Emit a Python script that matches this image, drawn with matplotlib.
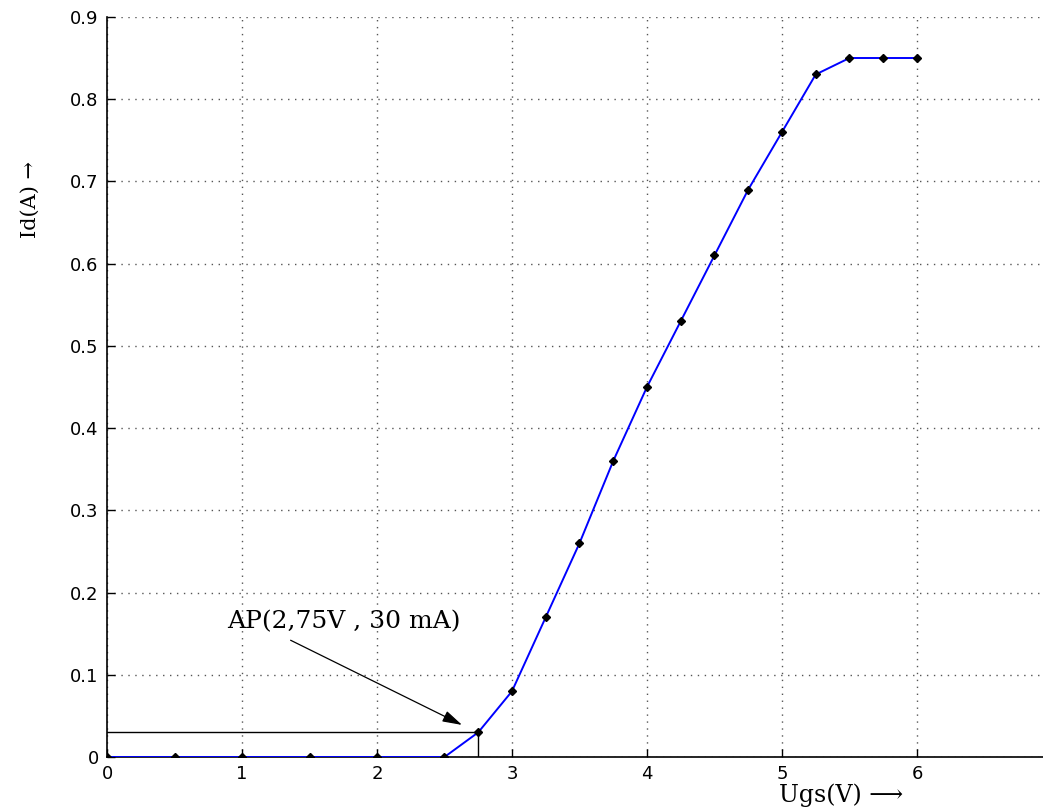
import matplotlib
matplotlib.use("Agg")
import matplotlib.pyplot as plt

ugs = [0, 0.5, 1, 1.5, 2, 2.5, 2.75, 3, 3.25, 3.5, 3.75, 4, 4.25, 4.5, 4.75, 5, 5.25, 5.5, 5.75, 6]
id_a = [0, 0, 0, 0, 0, 0, 0.03, 0.08, 0.17, 0.26, 0.36, 0.45, 0.53, 0.61, 0.69, 0.76, 0.83, 0.85, 0.85, 0.85]
ap_x, ap_y = 2.75, 0.03
ap_label = "AP(2,75V , 30 mA)"
xticks = [0, 1, 2, 3, 4, 5, 6, 7]
yticks = [0, 0.1, 0.2, 0.3, 0.4, 0.5, 0.6, 0.7, 0.8, 0.9]
ytick_labels = ["0", "0.1", "0.2", "0.3", "0.4", "0.5", "0.6", "0.7", "0.8", "0.9"]

serif = ["DejaVu Serif", "DejaVu Sans"]

fig = plt.figure(figsize=(10.43, 8.08), dpi=100)
ax = fig.add_axes([0.1026, 0.0631, 0.906, 0.916])
ax.set_xlim(0, 7)
ax.set_ylim(0, 0.9)

ax.plot(ugs, id_a, color="#0000ff", lw=1.4, zorder=3)
ax.plot(ugs, id_a, ls="none", marker="D", ms=4, color="black", zorder=4)

# operating point lines
ax.plot([0, ap_x], [ap_y, ap_y], color="black", lw=1.0, zorder=2)
ax.plot([ap_x, ap_x], [0, ap_y], color="black", lw=1.0, zorder=2)

ax.annotate("", xy=(2.63, 0.039), xytext=(1.36, 0.142),
            arrowprops=dict(arrowstyle="-|>,head_length=1.2,head_width=0.35",
                            color="black", lw=0.9, shrinkA=0, shrinkB=0))
ax.text(0.89, 0.164, ap_label, fontsize=18, family=serif,
        ha="left", va="center")

ax.set_xticks(xticks)
ax.set_yticks(yticks)
ax.set_yticklabels(ytick_labels)
ax.tick_params(direction="in", length=6, width=1, labelsize=13, pad=6)
for lab in ax.get_xticklabels() + ax.get_yticklabels():
    lab.set_family("DejaVu Sans")
ax.grid(True, ls=(0, (1, 4)), color="#555555", lw=1.0)
ax.set_axisbelow(True)
for s in ["top", "right"]:
    ax.spines[s].set_visible(False)
for s in ["left", "bottom"]:
    ax.spines[s].set_linewidth(1.2)

fig.text(841 / 1043, 1 - 795 / 808, "Ugs(V) \u27f6", fontsize=17, family=serif,
         ha="center", va="center")
fig.text(30 / 1043, 1 - 200 / 808, "Id(A) \u2192", fontsize=15, family=serif,
         ha="center", va="center", rotation=90)

fig.savefig("out.png", dpi=100)
